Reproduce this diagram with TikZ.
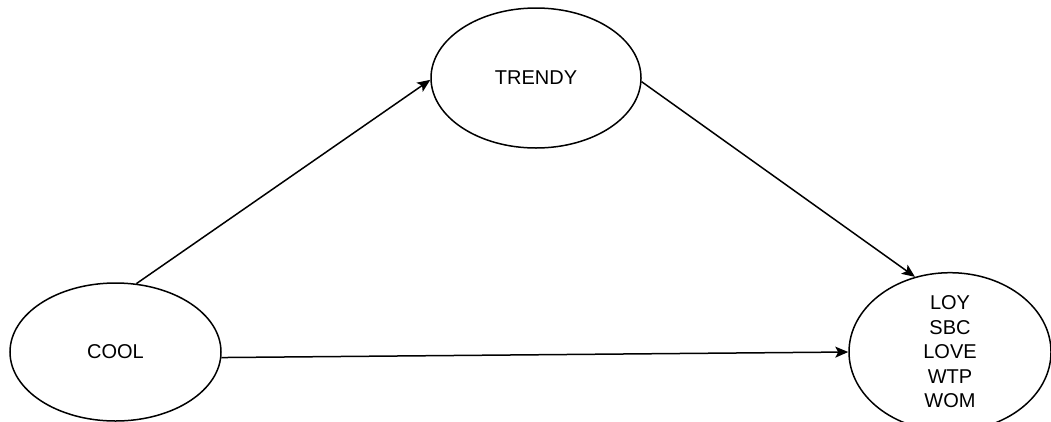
\documentclass[tikz,border=0pt]{standalone}
\usepackage{fontspec}
\setmainfont{Liberation Sans}
\usetikzlibrary{shapes.geometric,arrows.meta}
\begin{document}
\begin{tikzpicture}[x=1pt,y=-1pt,
  construct/.style={ellipse,draw,line width=1.5pt,inner sep=0pt,
    font=\fontsize{20}{24.5}\selectfont,align=center},
  link/.style={line width=1.5pt,-{Stealth[length=13pt,width=11pt,inset=3pt]}}]
\useasboundingbox (0,0) rectangle (1051,421);
\node[construct,minimum width=211pt,minimum height=138pt] (cool) at (115.5,352) {COOL};
\node[construct,minimum width=210pt,minimum height=140pt] (trendy) at (536,78) {TRENDY};
\node[construct,minimum width=202pt,minimum height=136pt] (out) at (950,352)
  {LOY\\SBC\\LOVE\\WTP\\WOM};
\draw[link] (cool.73) -- (trendy.181);
\draw[link] (trendy.-2) -- (out.115);
\draw[link] (cool.-3) -- (out.180);
\end{tikzpicture}
\end{document}
